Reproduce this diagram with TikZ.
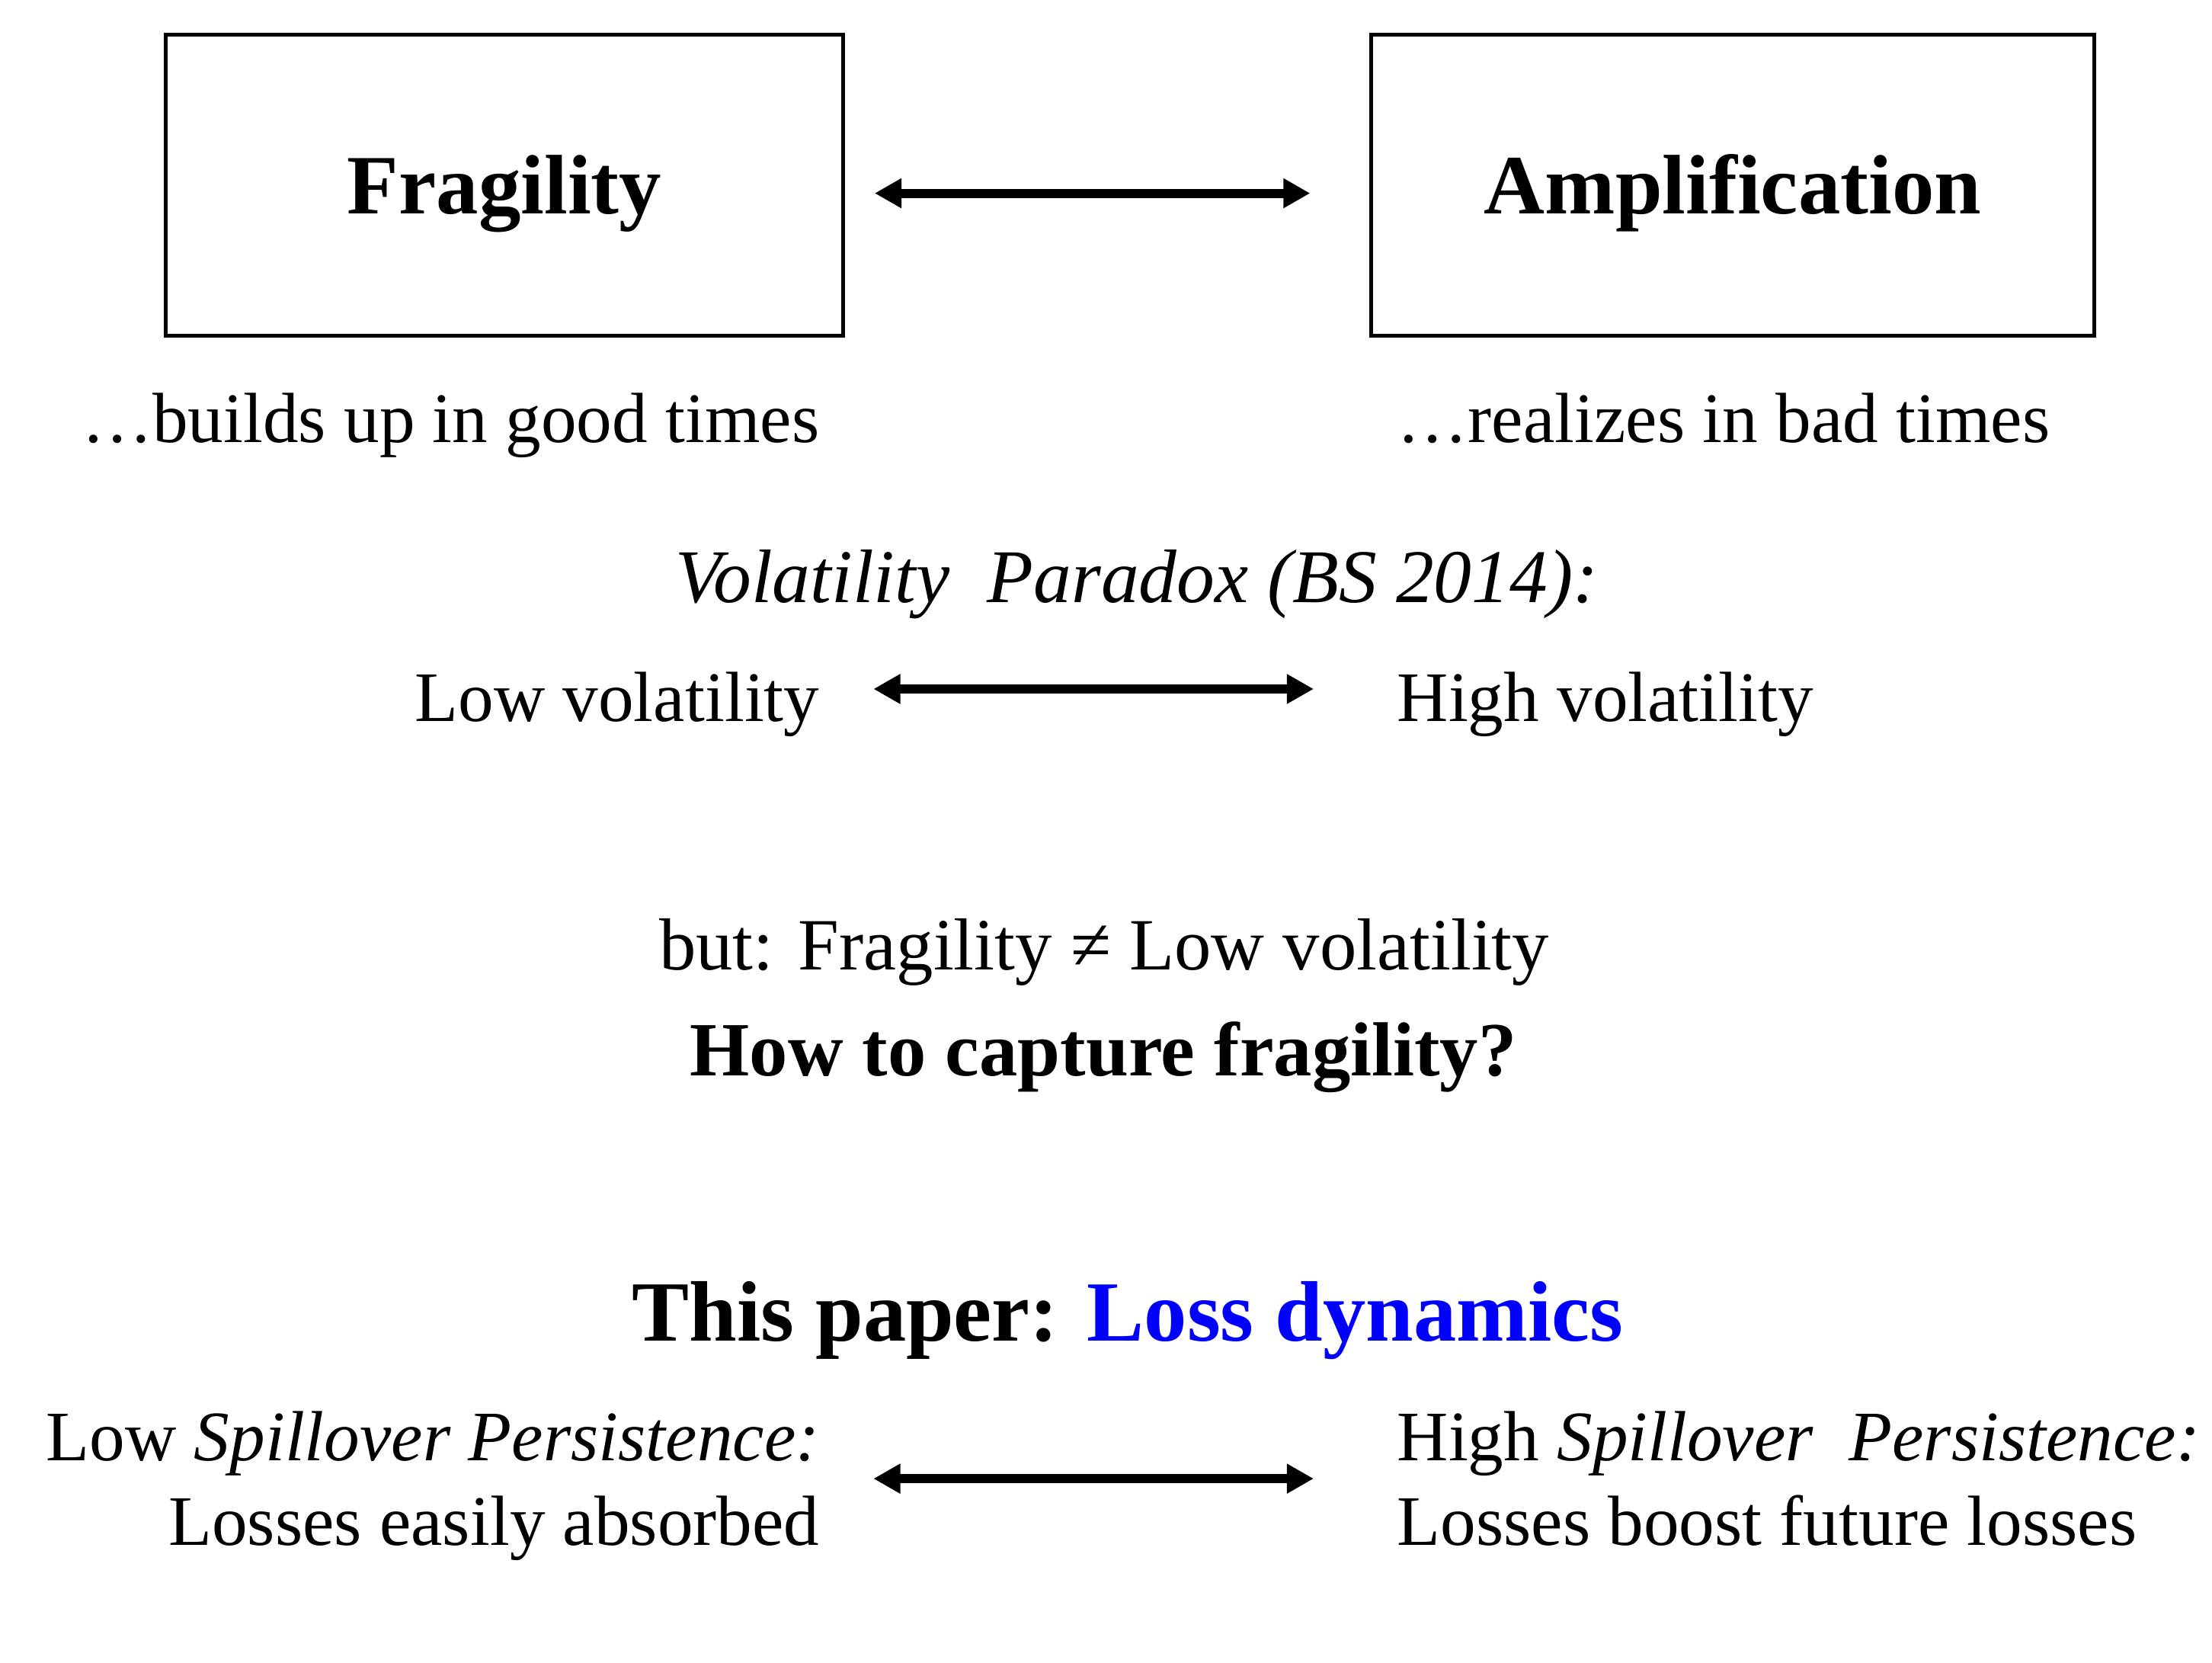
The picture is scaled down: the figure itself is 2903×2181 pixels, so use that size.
\documentclass[tikz,border=0pt]{standalone}
\usepackage{fontspec}
\setmainfont{Liberation Serif}
\usetikzlibrary{arrows.meta}

\begin{document}
\begin{tikzpicture}[x=0.01cm,y=-0.01cm]
    \useasboundingbox (0,0) rectangle (2903,2181);
    \tikzset{Box/.style = {draw, line width=1.4pt, inner sep=0pt,
                           text height=24pt, text depth=2.4pt,
                           font=\fontsize{31.5}{36}\selectfont\bfseries}}
    \tikzset{Txt/.style = {inner sep=0pt, text height=0.7em, text depth=0.25em,
                           font=\fontsize{26.5}{31.6}\selectfont}}
    \tikzset{Both/.style = {line width=3.4pt, {Triangle[length=10pt,width=10.5pt]}-{Triangle[length=10pt,width=10.5pt]}}}

    \node[Box, minimum width=8.89cm, minimum height=3.95cm] (frag) at (662,243) {Fragility};
    \node[Box, minimum width=9.49cm, minimum height=3.95cm] (ampl) at (2274,243) {Amplification};
    \node[Txt, anchor=base east] (good) at (1076,580) {…builds up in good times};
    \node[Txt, anchor=base west] (bad) at (1833,580) {…realizes in bad times};

    \node[Txt, anchor=base, font=\fontsize{28.3}{33}\selectfont\itshape] (paradox) at (1492,790) {Volatility\ \ Paradox (BS 2014):};
    \node[Txt, anchor=base east] (lowvol) at (1076,946) {Low volatility};
    \node[Txt, anchor=base west] (highvol) at (1833,946) {High volatility};

    \node[Txt, anchor=base, font=\fontsize{27.5}{33}\selectfont] (neq) at (1449,1272) {but: Fragility ≠ Low volatility};
    \node[Txt, anchor=base, font=\fontsize{28.6}{34}\selectfont\bfseries] (capture) at (1448,1411) {How to capture fragility?};
    \node[Txt, anchor=base, font=\fontsize{32}{38}\selectfont\bfseries] (paper) at (1480,1759) {This paper: \textcolor{blue}{Loss dynamics}};

    \node[Txt, anchor=base east] (lowsp) at (1076,1916) {Low \textit{Spillover Persistence:}};
    \node[Txt, anchor=base east] (lowloss) at (1076,2027) {Losses easily absorbed};
    \node[Txt, anchor=base west] (highsp) at (1833,1916) {High \textit{Spillover\ \ Persistence:}};
    \node[Txt, anchor=base west] (highloss) at (1833,2027) {Losses boost future losses};

    \draw[Both, shorten <=11pt, shorten >=22pt] ([yshift=-3pt]frag.east) -- ([yshift=-3pt]ampl.west);
    \draw[Both, shorten <=20pt, shorten >=31pt] ([yshift=9.7pt]lowvol.east) -- ([yshift=9.7pt]highvol.west);
    \draw[Both, shorten <=20pt, shorten >=31pt] ([yshift=-9.1pt]lowsp.east) -- ([yshift=-9.1pt]highsp.west);
\end{tikzpicture}
\end{document}
